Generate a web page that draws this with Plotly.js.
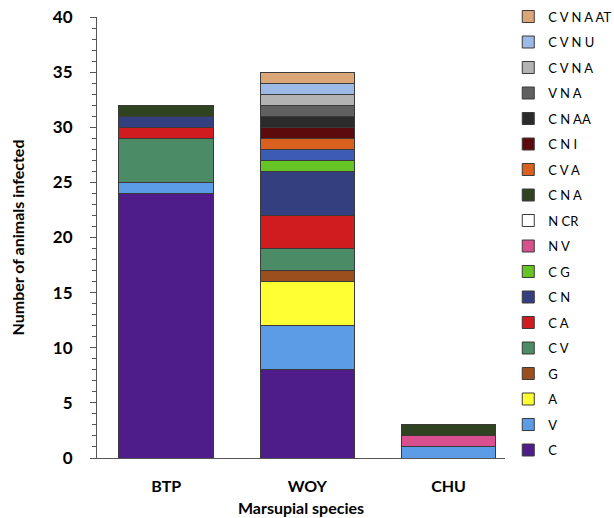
<!DOCTYPE html>
<html>
<head>
<meta charset="utf-8">
<script src="https://cdn.plot.ly/plotly-3.0.1.min.js"></script>
<style>html,body{margin:0;padding:0;background:#fff;}#chart{width:614px;height:518px;}</style>
</head>
<body>
<div id="chart"></div>
<script>
const species = ['BTP', 'WOY', 'CHU'];

const seriesNames = ['C', 'V', 'A', 'G', 'C V', 'C A', 'C N', 'C G', 'N V', 'N CR', 'C N A', 'C V A', 'C N I', 'C N AA', 'V N A', 'C V N A', 'C V N U', 'C V N A AT'];

const C        = [24, 8, null];
const V        = [1, 4, 1];
const A        = [null, 4, null];
const G        = [null, 1, null];
const CV       = [4, 2, null];
const CA       = [1, 3, null];
const CN       = [1, 4, null];
const CG       = [null, 1, null];
const NV       = [null, null, 1];
const NCR      = [null, 1, null];
const CNA      = [1, null, 1];
const CVA      = [null, 1, null];
const CNI      = [null, 1, null];
const CNAA     = [null, 1, null];
const VNA      = [null, 1, null];
const CVNA     = [null, 1, null];
const CVNU     = [null, 1, null];
const CVNAAT   = [null, 1, null];

const seriesValues = [C, V, A, G, CV, CA, CN, CG, NV, NCR, CNA, CVA, CNI, CNAA, VNA, CVNA, CVNU, CVNAAT];

const colors = ['#4f1d8a', '#5c9ce6', '#ffff33', '#9b4f1f', '#4b8b66', '#d01b1f', '#333f7f', '#66c425', '#d8508e',
  ['#ffffff', '#3c5cb4', '#ffffff'], '#2f4321', '#d9601f', '#5c0a0c', '#2b2b2b', '#606060', '#b3b3b3', '#9db9e6', '#dba779'];

const traces = seriesNames.map((name, i) => ({
  type: 'bar',
  name: name,
  x: species,
  y: seriesValues[i],
  legendgroup: 'g' + i,
  legendrank: 1000 - i,
  marker: { color: colors[i], line: { color: '#3a3a3a', width: 1 } },
  hoverinfo: 'x+y+name'
}));

const layout = {
  width: 614,
  height: 518,
  barmode: 'stack',
  bargap: 0.33,
  paper_bgcolor: '#ffffff',
  plot_bgcolor: '#ffffff',
  margin: { l: 97, r: 109, t: 17, b: 60, autoexpand: false },
  font: { family: 'Lato, Open Sans, sans-serif', color: '#000' },
  xaxis: {
    range: [-0.49, 2.4],
    showline: true,
    linecolor: '#555',
    linewidth: 1,
    ticks: '',
    ticklabelstandoff: 14,
    showgrid: false,
    zeroline: false,
    tickfont: { size: 16, color: '#000', weight: 'bold' },
    title: { text: 'Marsupial species', font: { size: 16, weight: 'bold' }, standoff: 8 }
  },
  yaxis: {
    range: [0, 40],
    dtick: 5,
    showline: true,
    linecolor: '#555',
    linewidth: 1,
    ticks: 'outside',
    ticklen: 6,
    tickcolor: '#555',
    ticklabelstandoff: 14,
    showgrid: false,
    zeroline: false,
    minor: { dtick: 1, ticks: 'outside', ticklen: 4, tickcolor: '#555', showgrid: false },
    tickfont: { size: 17, color: '#000', weight: 'bold' },
    title: { text: 'Number of animals infected', font: { size: 16, weight: 'bold' }, standoff: 24 }
  },
  legend: {
    x: 1.008, xanchor: 'left',
    y: 1.035, yanchor: 'top',
    traceorder: 'grouped',
    tracegroupgap: 5.6,
    maxheight: 1,
    font: { size: 13, color: '#000' },
    bgcolor: 'rgba(0,0,0,0)'
  },
  showlegend: true
};

Plotly.newPlot('chart', traces, layout, { displayModeBar: false, staticPlot: true });
</script>
</body>
</html>
